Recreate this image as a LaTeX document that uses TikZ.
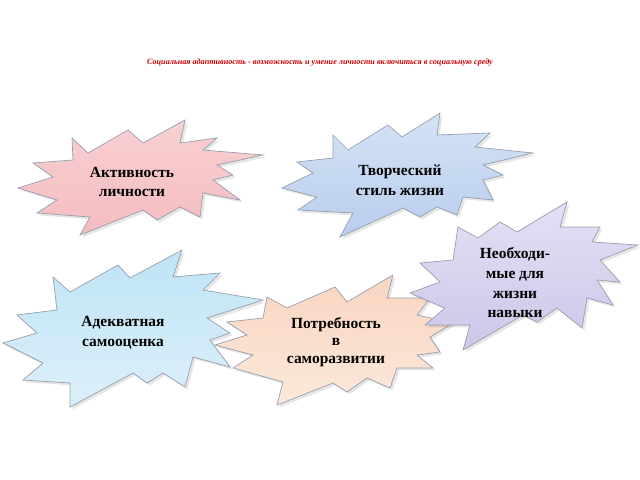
\documentclass[tikz,border=0pt]{standalone}
\usepackage{fontspec}
\setmainfont{Liberation Serif}
\definecolor{pinkT}{RGB}{249,208,210}\definecolor{pinkB}{RGB}{244,188,192}
\definecolor{blueT}{RGB}{212,226,245}\definecolor{blueB}{RGB}{184,206,237}
\definecolor{lavT}{RGB}{228,224,245}\definecolor{lavB}{RGB}{205,198,234}
\definecolor{cyanT}{RGB}{190,228,246}\definecolor{cyanB}{RGB}{220,240,250}
\definecolor{peachT}{RGB}{249,214,192}\definecolor{peachB}{RGB}{252,232,218}
\definecolor{edgec}{RGB}{150,160,175}
\begin{document}
\begin{tikzpicture}[x=0.025cm,y=-0.025cm,
  burst/.style={draw=edgec, line width=0.5pt, line join=miter},
  shadowb/.style={fill=black, opacity=0.10, draw=none},
  lbl/.style={font=\fontsize{11}{14}\selectfont\bfseries, align=center, text=black},
  ttl/.style={font=\fontsize{5.8}{7}\selectfont\itshape\bfseries, text=red!80!black}]
\useasboundingbox[fill=white] (0,0) rectangle (640,480);

\node[ttl] (title) at (320,63) {Социальная адаптивность - возможность и умение личности включиться в социальную среду};

% pink
\def\pinkpath{(72,138) -- (88,153) -- (128,130) -- (143,143) -- (185,120) -- (180,143) -- (217,138) -- (203,150) -- (263,155) -- (217,165) -- (233,175) -- (213,180) -- (240,200) -- (203,193) -- (200,217) -- (180,207) -- (157,220) -- (143,210) -- (80,235) -- (90,217) -- (37,213) -- (57,200) -- (18,188) -- (53,177) -- (33,163) -- (73,160) -- cycle}
\fill[shadowb, xshift=0.06cm, yshift=-0.06cm] \pinkpath;
\path[top color=pinkT, bottom color=pinkB] \pinkpath;
\draw[burst] \pinkpath;
% blue
\def\bluepath{(333,135) -- (348,150) -- (388,125) -- (402,137) -- (440,113) -- (437,135) -- (490,133) -- (475,147) -- (533,153) -- (483,165) -- (503,175) -- (483,180) -- (493,200) -- (463,197) -- (457,215) -- (437,207) -- (420,217) -- (403,208) -- (340,237) -- (353,213) -- (298,210) -- (317,197) -- (282,188) -- (313,173) -- (297,162) -- (333,158) -- cycle}
\fill[shadowb, xshift=0.06cm, yshift=-0.06cm] \bluepath;
\path[top color=blueT, bottom color=blueB] \bluepath;
\draw[burst] \bluepath;
% cyan
\def\cyanpath{(53,277) -- (70,292) -- (118,265) -- (130,278) -- (182,250) -- (173,277) -- (220,273) -- (203,290) -- (263,300) -- (207,318) -- (230,333) -- (210,340) -- (230,367) -- (193,357) -- (185,387) -- (163,373) -- (147,383) -- (133,373) -- (70,407) -- (70,383) -- (23,380) -- (43,363) -- (3,343) -- (37,333) -- (17,315) -- (57,310) -- cycle}
\fill[shadowb, xshift=0.06cm, yshift=-0.06cm] \cyanpath;
\path[top color=cyanT, bottom color=cyanB] \cyanpath;
\draw[burst] \cyanpath;
% peach
\def\peachpath{(267,297) -- (287,308) -- (335,287) -- (347,302) -- (393,275) -- (387,298) -- (430,298) -- (417,315) -- (453,323) -- (430,337) -- (440,352) -- (417,355) -- (433,368) -- (397,368) -- (390,388) -- (367,378) -- (347,392) -- (333,383) -- (277,405) -- (283,382) -- (233,368) -- (253,355) -- (215,345) -- (247,335) -- (227,322) -- (263,318) -- cycle}
\fill[shadowb, xshift=0.06cm, yshift=-0.06cm] \peachpath;
\path[top color=peachT, bottom color=peachB] \peachpath;
\draw[burst] \peachpath;
% lavender
\def\lavpath{(458,227) -- (478,238) -- (500,222) -- (517,232) -- (567,202) -- (560,227) -- (600,227) -- (592,242) -- (638,245) -- (600,260) -- (620,282) -- (597,280) -- (613,305) -- (587,298) -- (582,328) -- (557,308) -- (537,322) -- (523,315) -- (463,350) -- (470,325) -- (425,325) -- (445,308) -- (410,293) -- (440,282) -- (420,263) -- (453,260) -- cycle}
\fill[shadowb, xshift=0.06cm, yshift=-0.06cm] \lavpath;
\path[top color=lavT, bottom color=lavB] \lavpath;
\draw[burst] \lavpath;

\node[lbl] (n1) at (132,182) {Активность\\личности};
\node[lbl] (n2) at (400,180) {Творческий\\стиль жизни};
\node[lbl] (n3) at (515,283) {Необходи-\\мые для\\жизни\\навыки};
\node[lbl] (n4) at (123,333) {Адекватная\\самооценка};
\node[lbl, font=\fontsize{11}{12.5}\selectfont\bfseries] (n5) at (336,342) {Потребность\\в\\саморазвитии};
\end{tikzpicture}
\end{document}
